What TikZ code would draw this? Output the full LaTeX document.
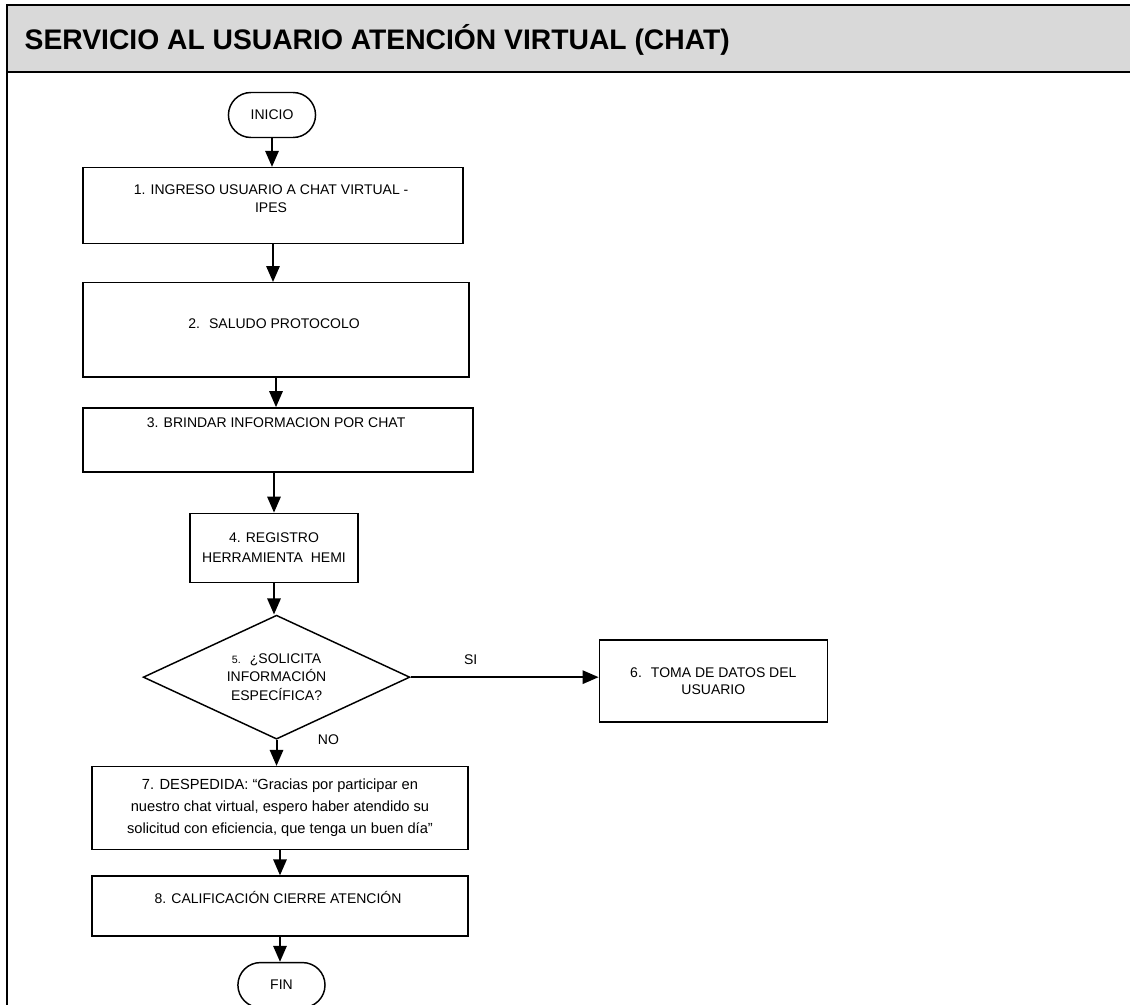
\documentclass[tikz,border=0pt]{standalone}
\usepackage{fontspec}
\setmainfont{Liberation Sans}
\definecolor{Cabecera}{HTML}{D9D9D9}
\usepackage{tikz}
\usetikzlibrary{shapes.geometric,shapes.misc,arrows.meta,positioning}
\tikzset{
    % Cajas de proceso, esquinas rectas
    procbox/.style={
        rectangle,
        draw=black,
        fill=white,
        line width=1.1pt,
        align=center,
        font=\fontsize{10.5}{13.5}\selectfont
    },
    termbox/.style={
        rounded rectangle,
        draw=black,
        fill=white,
        line width=1.1pt,
        minimum width=72pt,
        minimum height=33.75pt,
        font=\fontsize{10.5}{13.5}\selectfont
    },
    decbox/.style={
        diamond,
        draw=black,
        fill=white,
        line width=1.1pt,
        aspect=2.15,
        inner sep=0pt,
        minimum width=200pt,
        minimum height=93pt,
        align=center,
        font=\fontsize{10.5}{14}\selectfont
    },
    % texto arriba dentro de la caja
    toptext/.style={text height=7.5pt, text depth=#1},
    titletext/.style={
        font=\fontsize{21.2}{25}\selectfont\bfseries,
        anchor=west
    },
    etiqueta/.style={font=\fontsize{10.5}{13.5}\selectfont},
    arrow/.style={
        -{Triangle[length=12pt,width=10pt]},
        line width=1.5pt,
        color=black
    },
    frameline/.style={line width=2pt, color=black}
}
\begin{document}
\begin{tikzpicture}[x=0.75pt, y=-0.75pt, node distance=24pt]
    \useasboundingbox (0,0) rectangle (1130,1005);
    \clip (0,0) rectangle (1130,1005);
    \fill[white] (0,0) rectangle (1130,1005);

    % encabezado
    \fill[Cabecera] (7,5) rectangle (1140,72);
    \draw[frameline] (1140,5) -- (7,5) -- (7,1010);
    \draw[frameline] (7,72) -- (1140,72);
    \node[titletext] (titulo) at (20,40) {SERVICIO AL USUARIO ATENCIÓN VIRTUAL (CHAT)};

    \node[termbox] (inicio) at (272,115) {INICIO};
    \node[procbox, text depth=19.3pt, minimum width=285pt, minimum height=57pt,
          below=21.5pt of inicio, xshift=0.75pt] (ingreso) {
        \begin{tabular}{@{}c@{}}
        1. INGRESO USUARIO A CHAT VIRTUAL -\\
        IPES
        \end{tabular}
    };
    \node[procbox, toptext=9pt, minimum width=289.5pt, minimum height=70.5pt,
          below=28.25pt of ingreso, xshift=2.25pt] (saludo) {
        2.~ SALUDO PROTOCOLO
    };
    \node[procbox, toptext=25.5pt, minimum width=292.5pt, minimum height=48pt,
          below=22.25pt of saludo, xshift=1.5pt] (brindar) {
        3. BRINDAR INFORMACION POR CHAT
    };
    \node[procbox, font=\fontsize{10.5}{15}\selectfont, minimum width=126pt, minimum height=51.75pt,
          below=30pt of brindar, xshift=-3pt] (registro) {
        4. REGISTRO\\
        HERRAMIENTA~ HEMI
    };
    \node[decbox, below=23.5pt of registro, xshift=1.9pt] (pregunta) {
        {\fontsize{8}{10}\selectfont 5.}~ ¿SOLICITA\\
        INFORMACIÓN\\
        ESPECÍFICA?
    };
    \node[procbox, font=\fontsize{10.5}{13}\selectfont, minimum width=171pt, minimum height=61.5pt,
          right=141pt of pregunta, yshift=-3pt] (datos) {
        6.~ TOMA DE DATOS DEL\\
        USUARIO
    };
    \node[procbox, font=\fontsize{11}{16.5}\selectfont, minimum width=282pt, minimum height=62.25pt,
          below=19.5pt of pregunta, xshift=2.6pt] (despedida) {
        7. DESPEDIDA: “Gracias por participar en\\
        nuestro chat virtual, espero haber atendido su\\
        solicitud con eficiencia, que tenga un buen día”
    };
    \node[procbox, toptext=12pt, minimum width=282pt, minimum height=45pt,
          below=18.75pt of despedida] (calificacion) {
        8. CALIFICACIÓN CIERRE ATENCIÓN
    };
    \node[termbox, below=18.75pt of calificacion, xshift=1.1pt] (fin) {FIN};

    \draw[arrow] (inicio.south) -- (inicio.south |- ingreso.north);
    \draw[arrow] (ingreso.south) -- (ingreso.south |- saludo.north);
    \draw[arrow] (saludo.south) -- (saludo.south |- brindar.north);
    \draw[arrow] (registro.north |- brindar.south) -- (registro.north);
    \draw[arrow] (registro.south) -- (registro.south |- pregunta.north);
    \draw[arrow] (pregunta.east) -- (pregunta.east -| datos.west)
        node[etiqueta, pos=0.32, above=5pt] {SI};
    \draw[arrow] (pregunta.south) -- (pregunta.south |- despedida.north)
        node[etiqueta, pos=0, right=27pt] {NO};
    \draw[arrow] (despedida.south) -- (despedida.south |- calificacion.north);
    \draw[arrow] (calificacion.south) -- (calificacion.south |- fin.north);
\end{tikzpicture}
\end{document}
